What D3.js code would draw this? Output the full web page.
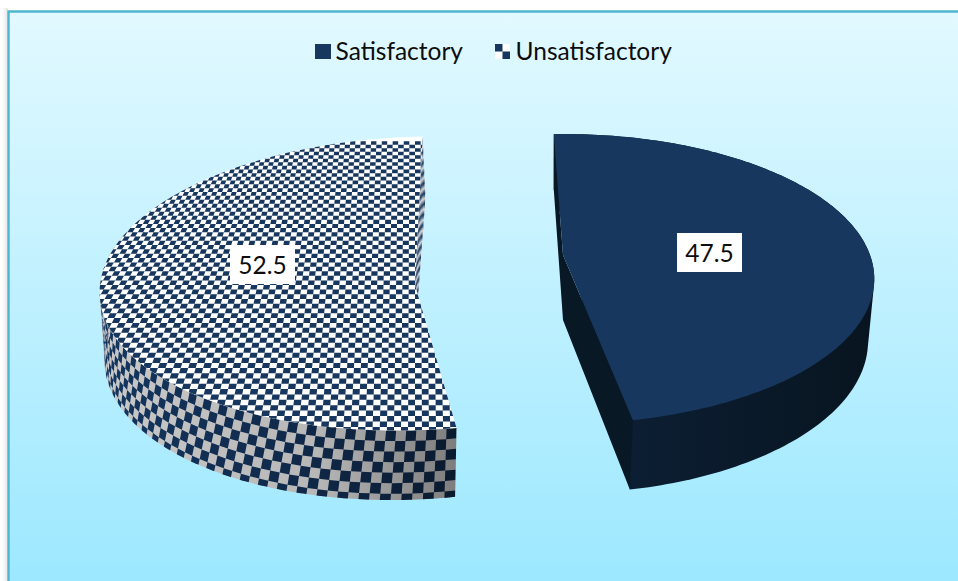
<!DOCTYPE html>
<html><head><meta charset="utf-8">
<script src="https://cdn.jsdelivr.net/npm/d3@7"></script>
<style>html,body{margin:0;padding:0;background:#fff}svg{display:block}</style>
</head><body><svg id="c" width="958" height="581"></svg>
<script>
const categories = ["Satisfactory", "Unsatisfactory"];
const values = [47.5, 52.5];
const labels = ["47.5", "52.5"];

const NAVY = "#17375e";
const svg = d3.select("#c");
const defs = svg.append("defs");

const bg = defs.append("linearGradient").attr("id","bg").attr("x1",0).attr("y1",0).attr("x2",0).attr("y2",1);
bg.append("stop").attr("offset",0).attr("stop-color","#e2f9ff");
bg.append("stop").attr("offset",1).attr("stop-color","#9de8ff");
const sh = defs.append("linearGradient").attr("id","shadow").attr("x1",0).attr("x2",1).attr("y1",0).attr("y2",0);
sh.append("stop").attr("offset",0).attr("stop-color","#fff");
sh.append("stop").attr("offset",1).attr("stop-color","#e4e4e4");

svg.append("rect").attr("width",958).attr("height",581).attr("fill","#fff");
svg.append("rect").attr("x",2).attr("y",8).attr("width",6).attr("height",573).attr("fill","url(#shadow)");
svg.append("rect").attr("x",8).attr("y",11).attr("width",950).attr("height",570).attr("fill","url(#bg)");
svg.append("path").attr("d","M8.5,581V11.5H958").attr("fill","none").attr("stroke","#4fb4d0").attr("stroke-width",2.4);

const rad = d3.scaleLinear().domain([0,180]).range([0,Math.PI]);
const pie = d3.pie().sort(null).value(d=>d).startAngle(rad(-2)).endAngle(rad(358))(values);

const views = [
  {top:{cx:563,cy:255,R:307,b:141,k:.165,s:0}, low:{cx:563,cy:320,R:302,b:149,k:.14,s:0}},
  {top:{cx:415,cy:285,R:315,b:147,k:-.01,s:18.5}, low:{cx:415,cy:337,R:307,b:150,k:.08,s:22}}
];
const proj = (L,t)=>{
  const X=Math.sin(t), Y=Math.cos(t), p=1+L.k*Y;
  return [L.cx+(L.R*X+L.s*Y)/p, L.cy-L.b*Y/p];
};
const line = d3.line();
const arcPts = (L,a,b,n=160)=>d3.range(n+1).map(i=>proj(L,a+(b-a)*i/n));
const lerp = (p,q,t)=>[p[0]+(q[0]-p[0])*t,p[1]+(q[1]-p[1])*t];
const apex = L=>[L.cx,L.cy];

// ---- Satisfactory (solid navy)
{
  const v=views[0], a=pie[0].startAngle, b=pie[0].endAngle;
  const g=svg.append("g");
  const rg=defs.append("linearGradient").attr("id","rimR").attr("gradientUnits","userSpaceOnUse")
    .attr("x1",630).attr("x2",874).attr("y1",0).attr("y2",0);
  rg.append("stop").attr("offset",0).attr("stop-color","#0c1e33");
  rg.append("stop").attr("offset",1).attr("stop-color","#081520");
  const hull=d3.polygonHull(arcPts(v.top,a,b).concat(arcPts(v.low,a,b)));
  g.append("path").attr("fill","url(#rimR)").attr("d",line(hull)+"Z");
  g.append("path").attr("fill","#091825").attr("d",line([
    proj(v.top,a),proj(v.low,a),apex(v.low),proj(v.low,b),proj(v.top,b),apex(v.top)
  ])+"Z");
  g.append("path").attr("fill",NAVY).attr("d",line([apex(v.top)].concat(arcPts(v.top,a,b)))+"Z");
}

// ---- Unsatisfactory (checkerboard)
{
  const v=views[1], a=pie[1].startAngle, b=pie[1].endAngle;
  const g=svg.append("g");
  const rg=defs.append("linearGradient").attr("id","rimL").attr("gradientUnits","userSpaceOnUse")
    .attr("x1",100).attr("x2",456).attr("y1",0).attr("y2",0);
  rg.append("stop").attr("offset",0).attr("stop-color","#c8c8c8");
  rg.append("stop").attr("offset",.6).attr("stop-color","#b8b8b8");
  rg.append("stop").attr("offset",1).attr("stop-color","#7d7d7d");
  const cg=defs.append("linearGradient").attr("id","rimCell").attr("gradientUnits","userSpaceOnUse")
    .attr("x1",100).attr("x2",456).attr("y1",0).attr("y2",0);
  cg.append("stop").attr("offset",0).attr("stop-color","#14365f");
  cg.append("stop").attr("offset",.55).attr("stop-color","#10294a");
  cg.append("stop").attr("offset",1).attr("stop-color","#0a1a2e");
  // front rim, outlined by the hull of the front part of both edges
  const frontEnd=a+(b-a)*.68;
  const hull=d3.polygonHull(arcPts(v.top,a,frontEnd).concat(arcPts(v.low,a,frontEnd)));
  g.append("path").attr("fill","url(#rimL)").attr("d",line(hull)+"Z");
  defs.append("clipPath").attr("id","clipRim").append("path").attr("d",line(hull)+"Z");
  const dA=rad(1.85), rows=7; let rim="";
  const nA=Math.ceil((frontEnd-a)/dA);
  for(let i=0;i<nA;i++) for(let j=0;j<rows;j++){
    if((i+j)%2) continue;
    const t0=a+i*dA, t1=t0+dA;
    const u0=j/6.6, u1=(j+1)/6.6;
    const q=[lerp(proj(v.top,t0),proj(v.low,t0),u0),lerp(proj(v.top,t1),proj(v.low,t1),u0),
             lerp(proj(v.top,t1),proj(v.low,t1),u1),lerp(proj(v.top,t0),proj(v.low,t0),u1)];
    rim+=line(q)+"Z";
  }
  g.append("path").attr("clip-path","url(#clipRim)").attr("fill","url(#rimCell)").attr("d",rim);
  // end wall seen as a sliver beside the top face
  const wall=[proj(v.top,b),proj(v.low,b),apex(v.low),apex(v.top)];
  g.append("path").attr("fill","#d8d8d8").attr("d",line(wall)+"Z");
  let w="";
  for(let i=0;i<26;i++) for(let j=0;j<12;j++){
    if((i+j)%2) continue;
    const c=(ii,jj)=>lerp(lerp(wall[0],wall[3],ii/26),lerp(wall[1],wall[2],ii/26),jj/12);
    w+=line([c(i,j),c(i+1,j),c(i+1,j+1),c(i,j+1)])+"Z";
  }
  g.append("path").attr("fill",NAVY).attr("d",w);
  // top face
  const face=line([apex(v.top)].concat(arcPts(v.top,a,b)))+"Z";
  defs.append("clipPath").attr("id","clipTop").append("path").attr("d",face);
  g.append("path").attr("fill","#fff").attr("d",face);
  const cw=6.3, ch=4.6, warp=(i,j)=>{
    const dy=j*ch*(1+j*ch*.0008), U=i*cw;
    return [v.top.cx+U*(1+dy*(.0007+.0012*Math.abs(U)/300)), v.top.cy+dy];
  };
  let chk="";
  for(let j=-36;j<36;j++) for(let i=-62;i<12;i++){
    if(((i+j)%2+2)%2) continue;
    chk+=line([warp(i,j),warp(i+1,j),warp(i+1,j+1),warp(i,j+1)])+"Z";
  }
  g.append("path").attr("clip-path","url(#clipTop)").attr("fill",NAVY).attr("d",chk);
}

// ---- Data labels
const labelBox=[{x:677,y:233},{x:230,y:245}];
labels.forEach((t,i)=>{
  svg.append("rect").attr("x",labelBox[i].x).attr("y",labelBox[i].y).attr("width",65).attr("height",39).attr("fill","#fff");
  svg.append("text").attr("x",labelBox[i].x+32.5).attr("y",labelBox[i].y+29).attr("text-anchor","middle")
    .attr("font-family","Lato").attr("font-size",24.5).attr("fill","#0d0d0d").text(t);
});

// ---- Legend
const legX=[315,495];
const lg=svg.append("g");
categories.forEach((c,i)=>{
  lg.append("text").attr("x",legX[i]+20.6).attr("y",60).attr("font-family","Lato").attr("font-size",24.5).attr("fill","#0d0d0d").text(c);
});
lg.append("rect").attr("x",315).attr("y",44).attr("width",16).attr("height",15).attr("fill",NAVY);
lg.append("rect").attr("x",495).attr("y",44).attr("width",15).attr("height",15).attr("fill","#fff");
lg.append("rect").attr("x",495).attr("y",44).attr("width",7.5).attr("height",7.5).attr("fill",NAVY);
lg.append("rect").attr("x",502.5).attr("y",51.5).attr("width",7.5).attr("height",7.5).attr("fill",NAVY);
</script></body></html>
